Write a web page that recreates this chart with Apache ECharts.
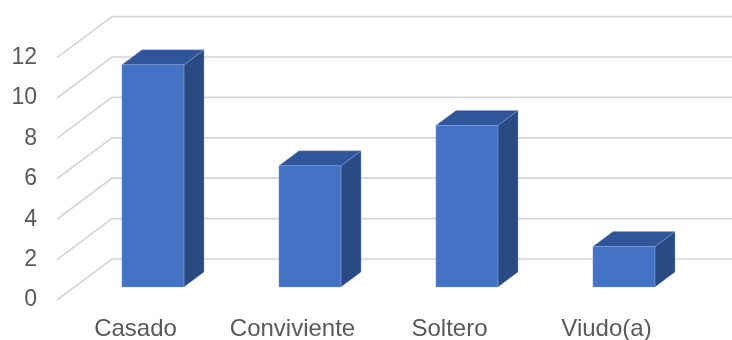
<!DOCTYPE html>
<html>
<head>
<meta charset="utf-8">
<script src="https://cdn.jsdelivr.net/npm/echarts@6/dist/echarts.min.js"></script>
<style>
  html, body { margin: 0; padding: 0; background: #fff; }
  #chart { width: 732px; height: 340px; }
</style>
</head>
<body>
<div id="chart"></div>
<script>
// Estado civil – cantidad de personas
const categories = ['Casado', 'Conviviente', 'Soltero', 'Viudo(a)'];
const counts = [11, 6, 8, 2];
const yTicks = [0, 2, 4, 6, 8, 10, 12];

// Oblique 3D look: horizontal shift per pixel of depth (measured upward)
const SLOPE = 1.34;
const FLOOR_DEPTH = 41;  // floor front edge -> back wall
const BAR_FRONT = 13;    // floor front edge -> bar front face
const BAR_DEPTH = 15;    // bar front face -> bar back face
const BAR_RATIO = 0.395; // bar width as a share of the category band

const textColor = '#595959';
const font = 'Liberation Sans, Arial, sans-serif';

const chart = echarts.init(document.getElementById('chart'), null, { renderer: 'canvas' });

function renderGridLine(params, api) {
  const v = api.value(1);
  const y = api.coord([0, v])[1];
  const x0 = params.coordSys.x;
  const bx = x0 + FLOOR_DEPTH * SLOPE;
  const by = y - FLOOR_DEPTH;
  return {
    type: 'polyline',
    shape: { points: [[x0, y], [bx, by], [bx + params.coordSys.width + 200, by]] },
    style: { stroke: '#D6D6D6', lineWidth: 1.7, fill: null }
  };
}

function renderBar(params, api) {
  const i = api.value(0);
  const v = api.value(1);
  const base = api.coord([i, 0]);
  const topPt = api.coord([i, v]);
  const halfW = api.size([1, 0])[0] * BAR_RATIO / 2;
  const sx = BAR_FRONT * SLOPE, sy = -BAR_FRONT;
  const dx = BAR_DEPTH * SLOPE, dy = -BAR_DEPTH;
  const xl = base[0] + sx - halfW;
  const xr = base[0] + sx + halfW;
  const yt = topPt[1] + sy;
  const yb = base[1] + sy;
  const edge = { stroke: 'rgba(140,170,225,0.55)', lineWidth: 0.7 };
  return {
    type: 'group',
    children: [
      {
        type: 'polygon',
        shape: { points: [[xr, yt], [xr, yb], [xr + dx, yb + dy], [xr + dx, yt + dy]] },
        style: Object.assign({ fill: '#2A4A83' }, edge)
      },
      {
        type: 'polygon',
        shape: { points: [[xl, yt], [xr, yt], [xr + dx, yt + dy], [xl + dx, yt + dy]] },
        style: Object.assign({ fill: '#30559A' }, edge)
      },
      {
        type: 'rect',
        shape: { x: xl, y: yt, width: xr - xl, height: yb - yt },
        style: Object.assign({ fill: '#4472C4' }, edge)
      }
    ]
  };
}

chart.setOption({
  animation: false,
  backgroundColor: '#ffffff',
  grid: {
    left: 57, right: 47, top: 57.6, bottom: 40,
    containLabel: false, outerBoundsMode: 'none'
  },
  xAxis: {
    type: 'category',
    data: categories,
    axisLine: { show: false },
    axisTick: { show: false },
    axisLabel: {
      color: textColor, fontSize: 24, fontFamily: font, margin: 17,
      interval: 0, hideOverlap: false
    }
  },
  yAxis: {
    type: 'value',
    min: 0, max: 12, interval: 2,
    axisLine: { show: false },
    axisTick: { show: false },
    splitLine: { show: false },
    axisLabel: {
      color: textColor, fontSize: 23, fontFamily: font, margin: 20
    }
  },
  series: [
    {
      type: 'custom',
      name: 'grid',
      clip: false,
      silent: true,
      z: 1,
      renderItem: renderGridLine,
      data: yTicks.map(v => [0, v])
    },
    {
      type: 'custom',
      name: 'Personas',
      clip: false,
      z: 2,
      renderItem: renderBar,
      data: counts.map((v, i) => [i, v])
    }
  ]
});
</script>
</body>
</html>
